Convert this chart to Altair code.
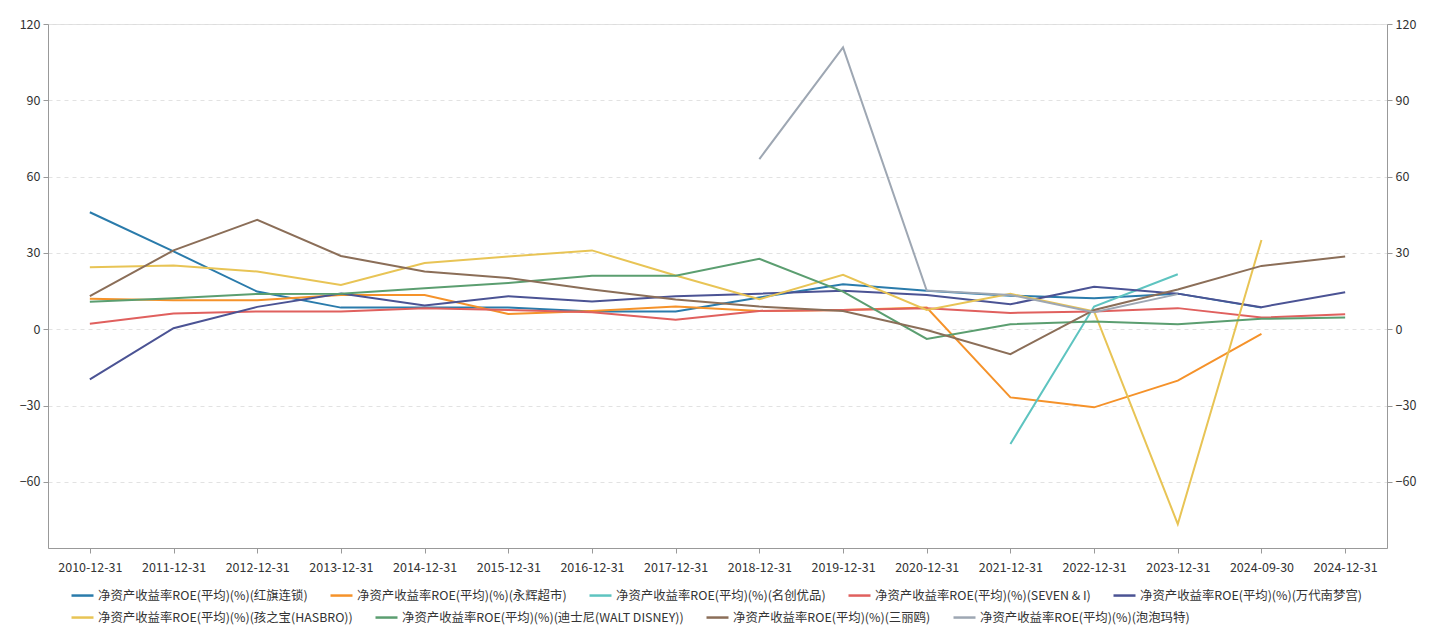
import altair as alt
import pandas as pd

dates = ["2010-12-31", "2011-12-31", "2012-12-31", "2013-12-31", "2014-12-31",
         "2015-12-31", "2016-12-31", "2017-12-31", "2018-12-31", "2019-12-31",
         "2020-12-31", "2021-12-31", "2022-12-31", "2023-12-31", "2024-09-30",
         "2024-12-31"]

series_names = [
    "净资产收益率ROE(平均)(%)(红旗连锁)",
    "净资产收益率ROE(平均)(%)(永辉超市)",
    "净资产收益率ROE(平均)(%)(名创优品)",
    "净资产收益率ROE(平均)(%)(SEVEN & I)",
    "净资产收益率ROE(平均)(%)(万代南梦宫)",
    "净资产收益率ROE(平均)(%)(孩之宝(HASBRO))",
    "净资产收益率ROE(平均)(%)(迪士尼(WALT DISNEY))",
    "净资产收益率ROE(平均)(%)(三丽鸥)",
    "净资产收益率ROE(平均)(%)(泡泡玛特)",
]

hongqi = [46.0, 30.6, 14.8, 8.5, 8.5, 8.5, 7.0, 7.0, 12.5, 17.7, 15.1, 13.2, 12.2, 14.0, 8.5, None]
yonghui = [12.0, 11.4, 11.4, 13.5, 13.5, 6.0, 7.2, 8.9, 7.2, 7.6, 8.5, -26.8, -30.7, -20.2, -1.8, None]
miniso = [None, None, None, None, None, None, None, None, None, None, None, -45.1, 8.9, 21.6, None, None]
seven_i = [2.2, 6.2, 7.0, 7.0, 8.3, 7.6, 6.7, 3.7, 7.2, 7.6, 8.3, 6.4, 7.0, 8.3, 4.6, 5.9]
bandai = [-19.7, 0.4, 8.8, 14.0, 9.3, 13.0, 10.9, 13.0, 14.0, 15.1, 13.5, 9.8, 16.7, 14.0, 8.7, 14.5]
hasbro = [24.4, 25.1, 22.7, 17.4, 26.0, 28.6, 31.0, 21.1, 11.8, 21.4, 7.6, 13.9, 7.0, -76.6, 35.1, None]
disney = [10.8, 12.2, 13.9, 14.0, 16.1, 18.2, 21.0, 21.0, 27.7, 14.8, -3.8, 2.0, 3.0, 2.0, 4.1, 4.6]
sanrio = [13.0, 31.0, 43.0, 28.8, 22.7, 20.1, 15.6, 11.7, 8.9, 7.2, -0.3, -9.8, 7.6, 15.6, 24.9, 28.6]
popmart = [None, None, None, None, None, None, None, None, 66.9, 110.8, 15.2, 13.5, 6.7, 13.8, None, None]

colors = ["#2a7bab", "#f5922a", "#5ec4c0", "#e0605e", "#4b5394",
          "#e8c455", "#5b9e70", "#8b6e58", "#9ea7b3"]

y_ticks = [-60, -30, 0, 30, 60, 90, 120]
y_domain = [-86, 120]

all_vals = [hongqi, yonghui, miniso, seven_i, bandai, hasbro, disney, sanrio, popmart]
rows = []
for name, vals in zip(series_names, all_vals):
    for d, v in zip(dates, vals):
        if v is not None:
            rows.append({"date": d, "series": name, "value": v})
df = pd.DataFrame(rows)

row1 = series_names[:5]
row2 = series_names[5:]
df1 = df[df["series"].isin(row1)]
df2 = df[df["series"].isin(row2)]

FONT = "Noto Sans CJK SC"
AX = "#999999"
LBL = "#333333"
FS = 12.5
LFS = 12.4

x_enc = alt.X(
    "date:O", sort=dates,
    scale=alt.Scale(domain=dates, padding=0.5),
    axis=alt.Axis(title=None, labelAngle=0, labelFontSize=FS, labelColor=LBL,
                  labelFont=FONT, domainColor=AX, tickColor=AX, tickSize=5,
                  labelPadding=8, grid=False),
)

y_scale = alt.Scale(domain=y_domain, nice=False, zero=False)

left_axis = alt.Axis(title=None, orient="left", values=y_ticks, grid=True,
                     gridDash=[4, 4], gridColor="#e2e2e2", domainColor=AX,
                     tickColor=AX, tickSize=5, labelFontSize=FS,
                     labelColor=LBL, labelFont=FONT, labelPadding=3)


def make_legend(y):
    return alt.Legend(title=None, orient="none", legendX=22, legendY=y,
                      direction="horizontal", symbolType="stroke", symbolSize=484,
                      symbolStrokeWidth=2.5, labelFontSize=LFS,
                      labelFont=FONT, labelColor=LBL, labelLimit=600,
                      columnPadding=17, labelOffset=3)


lines1 = alt.Chart(df1).mark_line(strokeWidth=2).encode(
    x=x_enc,
    y=alt.Y("value:Q", scale=y_scale, axis=left_axis),
    color=alt.Color("series:N", sort=row1,
                    scale=alt.Scale(domain=row1, range=colors[:5]),
                    legend=make_legend(559)),
    detail="series:N",
)

lines2 = alt.Chart(df2).mark_line(strokeWidth=2).encode(
    x=x_enc,
    y=alt.Y("value:Q", scale=y_scale, axis=None),
    color=alt.Color("series:N", sort=row2,
                    scale=alt.Scale(domain=row2, range=colors[5:]),
                    legend=make_legend(581)),
    detail="series:N",
)

right = alt.Chart(df).mark_line(strokeOpacity=0).encode(
    x=x_enc,
    y=alt.Y("value:Q", scale=y_scale,
            axis=alt.Axis(title=None, orient="right", values=y_ticks, grid=False,
                          domainColor=AX, tickColor=AX, tickSize=5, labelFontSize=FS,
                          labelColor=LBL, labelFont=FONT, labelPadding=3)),
    detail="series:N",
)

chart = alt.layer(lines1, lines2, right).resolve_scale(
    y="independent", color="independent"
).properties(
    width=1339, height=524,
    padding={"left": 11, "top": 10, "right": 5, "bottom": 5},
).configure_view(stroke=None).configure(font=FONT)

chart.save("out.html", embed_options={"renderer": "svg", "actions": False})
